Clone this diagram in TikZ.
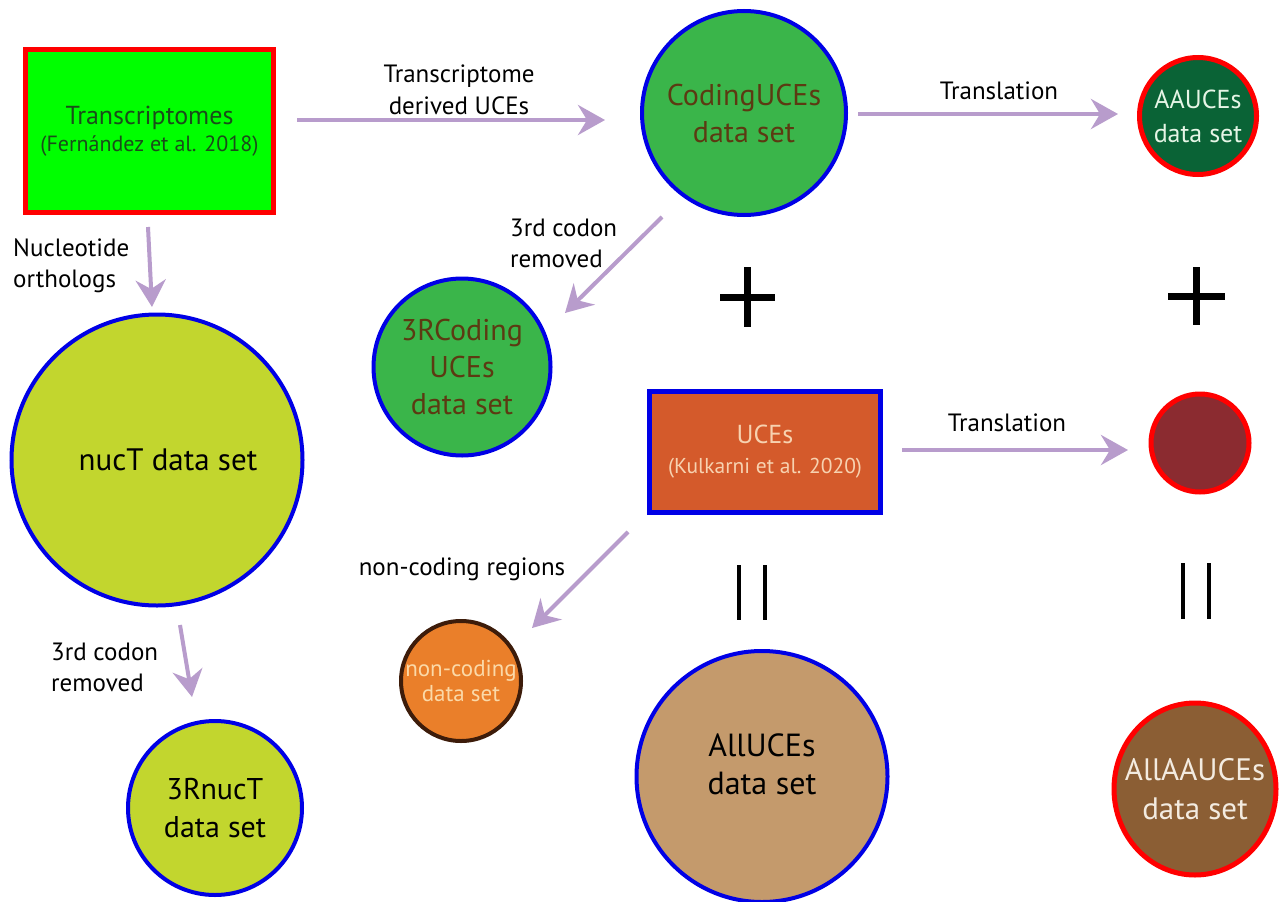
\documentclass[tikz,border=0pt]{standalone}
\usepackage{fontspec}
\setmainfont{PT Sans}
\usetikzlibrary{arrows.meta,shapes.geometric,calc}
\definecolor{arrowc}{HTML}{B89CCC}
\definecolor{boxgreen}{HTML}{00FF00}
\definecolor{boxtxt}{HTML}{1A4D1A}
\definecolor{midgreen}{HTML}{3AB54A}
\definecolor{codtxt}{HTML}{5C3A12}
\definecolor{darkgreen}{HTML}{0A6336}
\definecolor{aatxt}{HTML}{E6F5E6}
\definecolor{ucefill}{HTML}{D45A2B}
\definecolor{ucetxt}{HTML}{F7D2B0}
\definecolor{wine}{HTML}{8B2B30}
\definecolor{lime}{HTML}{C2D62E}
\definecolor{orangef}{HTML}{EA7F2A}
\definecolor{darkbrown}{HTML}{3D1C0A}
\definecolor{nctxt}{HTML}{FBD9A8}
\definecolor{tan}{HTML}{C49A6C}
\definecolor{brownf}{HTML}{8B5E34}
\definecolor{allaatxt}{HTML}{F3EBE0}
\definecolor{blueb}{HTML}{0000E6}
\definecolor{redb}{HTML}{FF0000}
\begin{document}
\begin{tikzpicture}[x=1pt,y=-1pt,
  arr/.style={draw=arrowc, line width=4pt, -{Stealth[length=27pt,width=30pt,inset=9pt]}},
  dset/.style={circle, inner sep=-20pt, align=center},
  bluedset/.style={dset, draw=blueb, line width=4pt},
  reddset/.style={dset, draw=redb, line width=5pt},
  lbl/.style={align=center, inner sep=0pt, font=\fontsize{25}{32}\selectfont},
  lbll/.style={align=left, inner sep=0pt, anchor=west, font=\fontsize{25}{31}\selectfont},
  sign/.style={line width=7pt, black},
  eqbar/.style={line width=4pt, black}]
\fill[white] (0,0) rectangle (1285,902);
\useasboundingbox (0,0) rectangle (1285,902);

% boxes
\node[draw=redb, line width=5pt, fill=boxgreen, minimum width=248pt, minimum height=163pt,
      inner sep=0pt, align=center, text=boxtxt, font=\fontsize{26}{27}\selectfont] (trans) at (149.5,131)
  {Transcriptomes\\{\fontsize{22}{27}\selectfont (Fernández et al. 2018)}};
\node[draw=blueb, line width=5pt, fill=ucefill, minimum width=231pt, minimum height=121pt,
      inner sep=0pt, align=center, text=ucetxt, font=\fontsize{26}{30}\selectfont] (uces) at (765,452)
  {UCEs\\{\fontsize{21.5}{30}\selectfont (Kulkarni et al. 2020)}};

% circles
\node[bluedset, fill=midgreen, minimum size=204pt, text=codtxt, font=\fontsize{30}{37}\selectfont]
  (cod) at (744,113) {CodingUCEs\\data set};
\node[reddset, fill=darkgreen, minimum size=117pt, text=aatxt, font=\fontsize{26}{34}\selectfont]
  (aa) at (1198,116) {AAUCEs\\data set};
\node[bluedset, fill=midgreen, minimum size=177pt, text=codtxt, font=\fontsize{30}{37}\selectfont]
  (rcod) at (462,367) {3RCoding\\UCEs\\data set};
\node[reddset, fill=wine, minimum size=98pt] (aaall) at (1200,443) {};
\node[bluedset, fill=lime, minimum size=291pt, text=black, font=\fontsize{31}{37}\selectfont]
  (nuct) at (157,460) {\hspace*{22pt}nucT data set};
\node[dset, draw=darkbrown, line width=4pt, fill=orangef, minimum size=120pt, text=nctxt,
      font=\fontsize{23}{25}\selectfont] (nonc) at (461,681) {non-coding\\data set};
\node[bluedset, fill=tan, minimum size=251pt, text=black, text depth=24pt, font=\fontsize{32}{38}\selectfont]
  (allu) at (762,776.5) {AllUCEs\\data set};
\node[ellipse, inner sep=-20pt, align=center, draw=redb, line width=5pt, fill=brownf,
      minimum width=162pt, minimum height=172pt, text=allaatxt, font=\fontsize{31}{39}\selectfont]
  (allaa) at (1195,789) {AllAAUCEs\\data set};
\node[bluedset, fill=lime, minimum size=174pt, text=black, font=\fontsize{30}{38}\selectfont]
  (rnuct) at (215,808) {3RnucT\\data set};

% arrows
\draw[arr] ($(trans.center)+(147.5,-11)$) -- ($(cod.center)+(-139,7)$);
\draw[arr] ($(cod.center)+(114,1)$) -- ($(aa.center)+(-80,-2)$);
\draw[arr] ($(cod.center)+(-82,104)$) -- ($(rcod.center)+(103,-54)$);
\draw[arr] ($(uces.center)+(137,-2)$) -- ($(aaall.center)+(-72,7)$);
\draw[arr] ($(uces.center)+(-137,80)$) -- ($(nonc.center)+(71,-53)$);
\draw[arr] ($(trans.center)+(-1.5,96)$) -- ($(nuct.center)+(-5,-153)$);
\draw[arr] ($(nuct.center)+(23,165)$) -- ($(rnuct.center)+(-23,-111)$);

% labels
\node[lbl] (l1) at (459,90) {Transcriptome\\derived UCEs};
\node[lbl] (l2) at (999,91) {Translation};
\node[lbl] (l3) at (1007,423) {Translation};
\node[lbll] (l4) at (510,243) {3rd codon\\removed};
\node[lbll] (l5) at (13,266) {Nucleotide\\orthologs};
\node[lbll] (l6) at (51,667) {3rd codon\\removed};
\node[lbl] (l7) at (462,569) {non-coding regions};

% plus and equals signs
\draw[sign] (720,297) -- (775,297);
\draw[sign] (747.5,267) -- (747.5,327);
\draw[sign] (1168,296) -- (1225,296);
\draw[sign] (1196.5,267) -- (1196.5,325);
\draw[eqbar] (739,565) -- (739,620);
\draw[eqbar] (765,565) -- (765,620);
\draw[eqbar] (1183,563) -- (1183,619);
\draw[eqbar] (1209,563) -- (1209,619);
\end{tikzpicture}
\end{document}
